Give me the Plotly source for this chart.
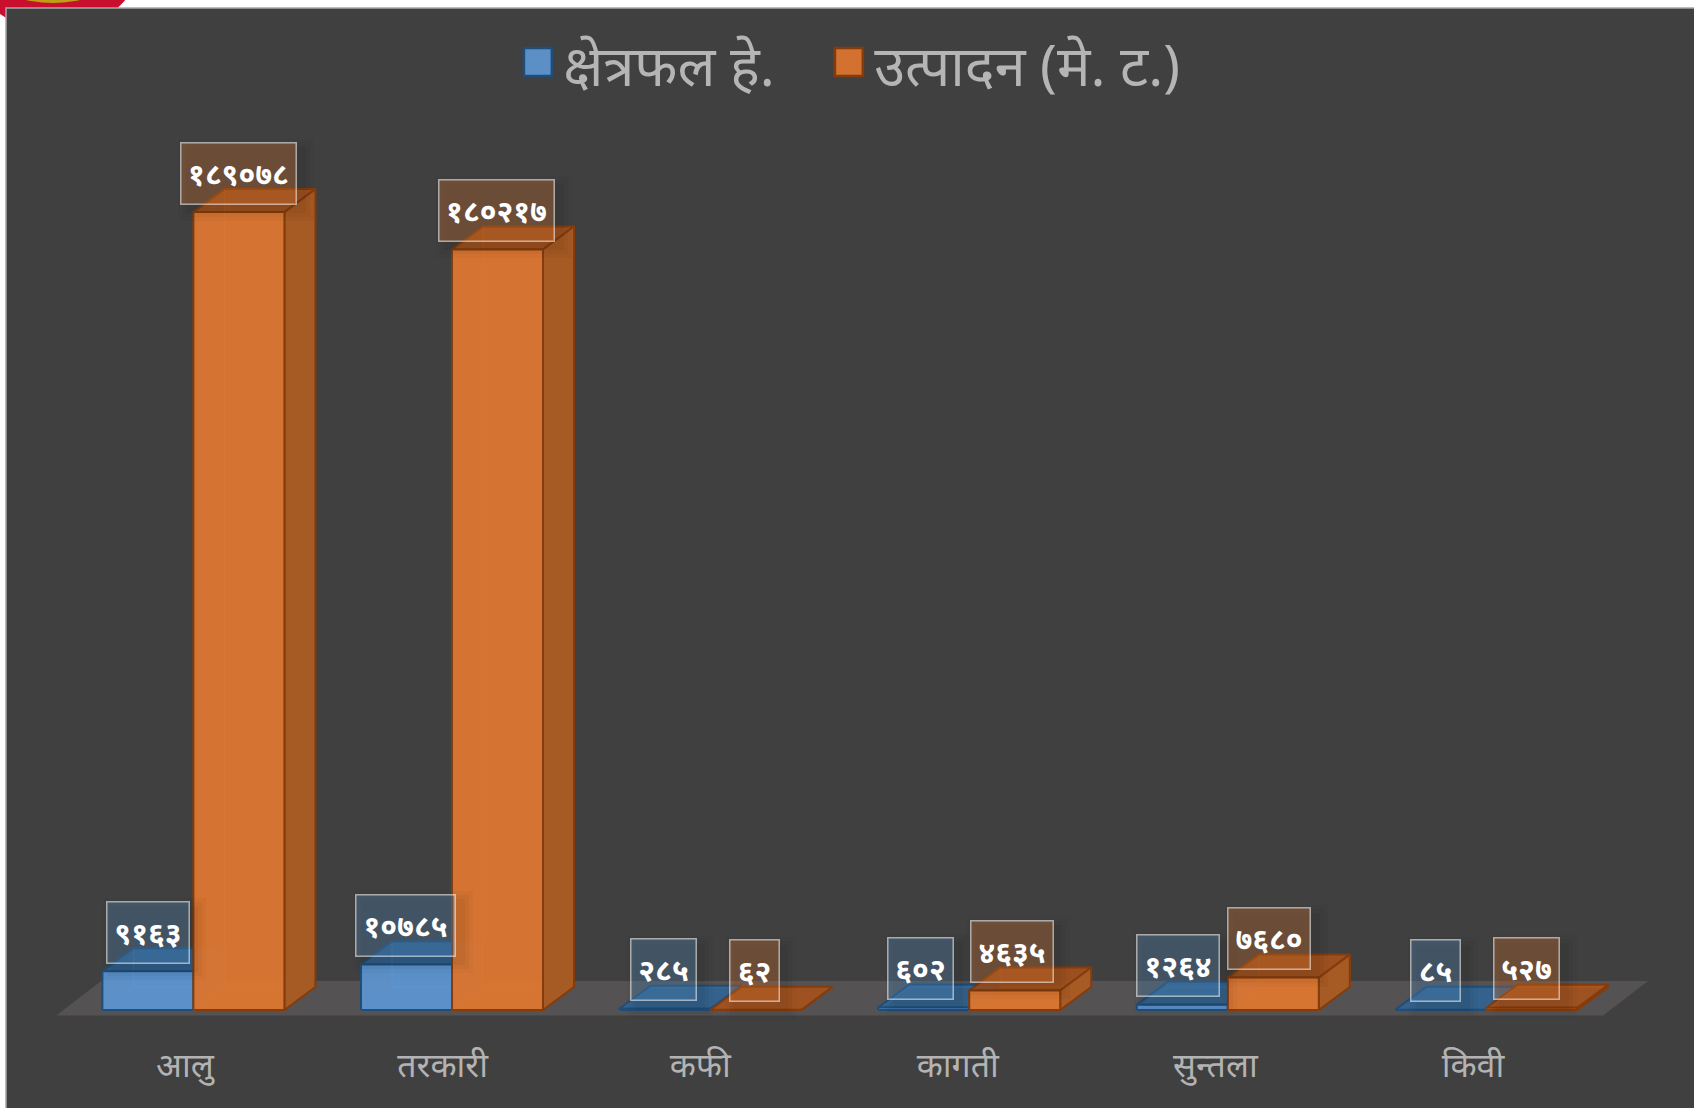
import plotly.graph_objects as go

# ---- data ----
categories = ["आलु", "तरकारी", "कफी", "कागती", "सुन्तला", "किवी"]
area_ha = [9163, 10785, 285, 602, 1264, 85]
production_mt = [189078, 180217, 62, 4635, 7680, 527]
series_names = ["क्षेत्रफल हे.", "उत्पादन (मे. ट.)"]

# ---- geometry of the drawing ----
W, H = 1694, 1108
PLOT_BOTTOM_PX = 1030
ZERO_PX = 1010
PX_PER_VALUE = 0.00422
X0_PX, SLOT_PX = 185.0, 257.6
GROUP_PITCH = 258.6 / SLOT_PX
xr = [(0 - X0_PX) / SLOT_PX, (W - X0_PX) / SLOT_PX]
yr = [(ZERO_PX - PLOT_BOTTOM_PX) / PX_PER_VALUE, ZERO_PX / PX_PER_VALUE]
px_x = 1 / SLOT_PX
px_y = 1 / PX_PER_VALUE

BAR_W = 91 * px_x
GROUP_SHIFT = 8.4 * px_x
DX, DY = 31 * px_x, 23 * px_y
DEVANAGARI = str.maketrans("0123456789", "०१२३४५६७८९")
FONT = "Noto Sans, Noto Sans Devanagari, Lohit Devanagari, sans-serif"


def poly(points):
    xs, ys = zip(*(points + [points[0]]))
    return list(xs) + [None], list(ys) + [None]


def faces(i, offset, v):
    x0 = i * GROUP_PITCH + GROUP_SHIFT + offset
    x1 = x0 + BAR_W
    a = lambda x, y: (x, y)
    back = [a(x0 + DX, DY), a(x1 + DX, DY), a(x1 + DX, v + DY), a(x0 + DX, v + DY)]
    floor = [a(x0, 0), a(x1, 0), a(x1 + DX, DY), a(x0 + DX, DY)]
    top = [a(x0, v), a(x1, v), a(x1 + DX, v + DY), a(x0 + DX, v + DY)]
    side = [a(x1, 0), a(x1 + DX, DY), a(x1 + DX, v + DY), a(x1, v)]
    front = [a(x0, 0), a(x1, 0), a(x1, v), a(x0, v)]
    return dict(back=back, floor=floor, top=top, side=side, front=front)


fig = go.Figure()

# floor plane
FLOOR_L, FLOOR_R = -0.5, 5.505
FLOOR_Y0, FLOOR_Y1 = -5.6 * px_y, 29 * px_y
FLOOR_DX = 45 * px_x
fx, fy = poly([(FLOOR_L, FLOOR_Y0), (FLOOR_R, FLOOR_Y0), (FLOOR_R + FLOOR_DX, FLOOR_Y1), (FLOOR_L + FLOOR_DX, FLOOR_Y1)])
fig.add_trace(go.Scatter(x=fx, y=fy, mode="lines", fill="toself", fillcolor="#545253",
                         line=dict(width=0), showlegend=False, hoverinfo="skip"))

styles = [
    dict(values=area_ha, offset=-BAR_W, edge="#1F4E79", front="rgba(93,148,208,0.93)", side="rgba(60,110,160,0.9)",
         top="rgba(48,100,150,0.82)", back="rgba(60,110,160,0.25)", swatch="#5B8FC6"),
    dict(values=production_mt, offset=0, edge="#843C0C", front="rgba(219,118,50,0.96)", side="#A65A24",
         top="rgba(165,82,28,0.88)", back="rgba(165,82,28,0.25)", swatch="#D27130"),
]

for name, s in zip(series_names, styles):
    groups = [faces(i, s["offset"], v) for i, v in enumerate(s["values"])]
    for face, color in [("back", s["back"]), ("floor", s["back"]), ("top", s["top"]),
                        ("side", s["side"]), ("front", s["front"])]:
        xs, ys = [], []
        for g in groups:
            px, py_ = poly(g[face])
            xs += px
            ys += py_
        lw = 1 if face in ("back", "floor") else 2
        lc = s["edge"] if lw == 2 else s["swatch"]
        fig.add_trace(go.Scatter(x=xs, y=ys, mode="lines", fill="toself", fillcolor=color,
                                 line=dict(color=lc, width=lw), showlegend=False, hoverinfo="skip"))
    fig.add_trace(go.Scatter(x=[None], y=[None], mode="markers", name=name,
                             marker=dict(symbol="square", size=16, color=s["swatch"],
                                         line=dict(color=s["edge"], width=1.5))))

# value labels
annotations = []
widths = {2: 48, 3: 64, 4: 81, 5: 98, 6: 114}
label_styles = [("rgba(91,155,213,0.28)", -BAR_W), ("rgba(237,125,49,0.28)", 0)]
for values, (bg, off) in zip([area_ha, production_mt], label_styles):
    for i, v in enumerate(values):
        txt = str(v).translate(DEVANAGARI)
        w = widths[len(str(v))]
        x = i + GROUP_SHIFT + off + BAR_W / 2
        for grow, alpha in [(22, 0.025), (14, 0.03), (6, 0.035)]:
            annotations.append(dict(x=x, y=v, xref="x", yref="y", text=" ", showarrow=False,
                                    width=w + grow, height=60 + grow, xshift=7, yshift=32, borderpad=0,
                                    bgcolor=f"rgba(0,0,0,{alpha})", borderwidth=0))
        annotations.append(dict(x=x, y=v, xref="x", yref="y", text=f"<b>{txt}</b>", showarrow=False,
                                width=w, height=60, yshift=39, borderpad=0, borderwidth=1.5,
                                bordercolor="rgba(255,255,255,0.55)", bgcolor=bg,
                                font=dict(family=FONT, size=30, color="white")))


def py(px):
    return (PLOT_BOTTOM_PX - px) / PLOT_BOTTOM_PX


# logo cut off at the corner (under the panel) and the dark background panel
shapes = [
    dict(type="circle", xref="paper", yref="paper", x0=(55 - 81) / W, x1=(55 + 81) / W,
         y0=py(30), y1=py(-90), fillcolor="#C8102E", line=dict(width=0), layer="below"),
    dict(type="circle", xref="paper", yref="paper", x0=(53 - 53) / W, x1=(53 + 53) / W,
         y0=py(3), y1=py(-40), fillcolor="#BFA014", line=dict(width=0), layer="below"),
    dict(type="rect", xref="paper", yref="paper", x0=6 / W, x1=1.01, y0=-0.2,
         y1=py(8), fillcolor="#404040", line=dict(color="#a6a6a6", width=1.5), layer="below"),
]

fig.update_layout(
    width=W, height=H, autosize=False,
    margin=dict(l=0, r=0, t=0, b=H - PLOT_BOTTOM_PX, pad=0),
    paper_bgcolor="white", plot_bgcolor="rgba(0,0,0,0)",
    showlegend=True,
    legend=dict(orientation="h", x=0.4925, xanchor="center", y=0.979, yanchor="top",
                font=dict(family=FONT, size=56, color="#b5b5b5"),
                bgcolor="rgba(0,0,0,0)", itemsizing="trace", traceorder="normal",
                entrywidth=266, entrywidthmode="pixels"),
    xaxis=dict(range=xr, tickmode="array", tickvals=list(range(6)), ticktext=categories,
               showgrid=False, zeroline=False, showline=False, ticks="",
               tickfont=dict(family=FONT, size=34, color="#b3b3b3"), ticklabelstandoff=12),
    yaxis=dict(range=yr, visible=False, showgrid=False, zeroline=False),
    shapes=shapes, annotations=annotations,
    hovermode=False,
)

post = """
document.body.style.margin = '0';
function fixLegend() {
  document.querySelectorAll('.legendpoints path.scatterpts').forEach(function (p) {
    p.setAttribute('transform', 'translate(14.6,-2.5) scale(1.75)');
  });
  document.querySelectorAll('.legend .scrollbox').forEach(function (b) {
    b.removeAttribute('clip-path');
  });
}
fixLegend();
setTimeout(fixLegend, 100);
"""
fig.write_html("out.html", post_script=post, config=dict(displayModeBar=False))
